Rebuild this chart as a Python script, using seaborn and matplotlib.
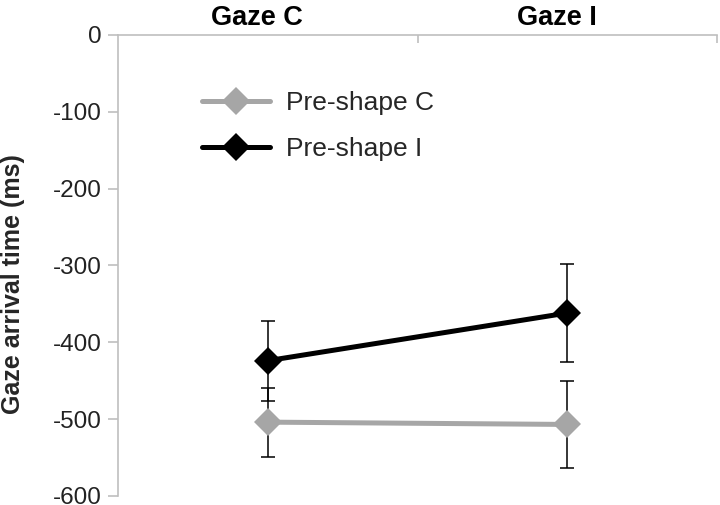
import pandas as pd
import matplotlib
matplotlib.use('Agg')
import matplotlib.pyplot as plt
import seaborn as sns

# data
conditions = ['Gaze C', 'Gaze I']
series_names = ['Pre-shape C', 'Pre-shape I']
preshape_c = [-504, -507]
preshape_c_err = [45, 57]
preshape_i = [-424, -362]
preshape_i_err = [52, 64]
y_ticks = [0, -100, -200, -300, -400, -500, -600]

colors = {'Pre-shape C': '#a6a6a6', 'Pre-shape I': '#000000'}

# long form table for seaborn
rows = []
for name, vals, errs in [('Pre-shape C', preshape_c, preshape_c_err),
                         ('Pre-shape I', preshape_i, preshape_i_err)]:
    for i, cond in enumerate(conditions):
        rows.append({'pos': i, 'condition': cond, 'series': name,
                     'value': vals[i], 'err': errs[i]})
df = pd.DataFrame(rows)

sns.set_theme(style='white')
plt.rcParams['font.family'] = ['Liberation Sans', 'DejaVu Sans']

fig = plt.figure(figsize=(7.2, 5.05), dpi=100)
ax = fig.add_axes([0.164, 0.018, 0.832, 0.913])

# error bars first so the markers sit on top
for name in series_names:
    sub = df[df['series'] == name]
    ax.errorbar(sub['pos'], sub['value'], yerr=sub['err'], fmt='none',
                ecolor='black', elinewidth=1.1, capsize=5, capthick=1.1,
                zorder=1)

sns.lineplot(data=df, x='pos', y='value', hue='series', style='series',
             hue_order=series_names, palette=colors,
             markers={'Pre-shape C': 'D', 'Pre-shape I': 'D'},
             dashes=False, linewidth=3.6, markersize=14,
             markeredgewidth=0, ax=ax, zorder=2)

ax.set_xlim(-0.5, 1.5)
ax.set_ylim(-600, 0)
ax.set_yticks(y_ticks)
ax.set_yticklabels([str(t) for t in y_ticks], fontsize=17.5, color='#222222')

# category axis on top, ticks at category boundaries
ax.xaxis.tick_top()
ax.set_xticks([0.5, 1.5])
ax.set_xticklabels([])
ax.tick_params(axis='x', direction='in', length=6, width=1.2, color='#bfbfbf', top=True, bottom=False)
ax.tick_params(axis='y', direction='out', length=7, width=1.2, color='#bfbfbf', left=True, pad=5)
# category names sit a little left of the category centres, as in the original
for i, cond in enumerate(conditions):
    ax.text(i - 0.035, 1.008, cond, transform=ax.get_xaxis_transform(), ha='center', va='bottom',
            fontsize=19.5, fontweight='bold', color='black')

for side in ['bottom', 'right']:
    ax.spines[side].set_visible(False)
for side in ['top', 'left']:
    ax.spines[side].set_color('#bfbfbf')
    ax.spines[side].set_linewidth(1.2)

ax.set_xlabel('')
ax.set_ylabel('Gaze arrival time (ms)', fontsize=18, fontweight='bold')
ax.yaxis.set_label_coords(-0.155, 0.46)

leg = ax.legend(loc='upper left', bbox_to_anchor=(0.1, 0.93), frameon=False,
                fontsize=19, handlelength=2.6, labelspacing=0.85, handletextpad=0.6)
for line in leg.get_lines():
    line.set_linewidth(3.6)
    line.set_markersize(14)

plt.savefig('out.png', dpi=100)
